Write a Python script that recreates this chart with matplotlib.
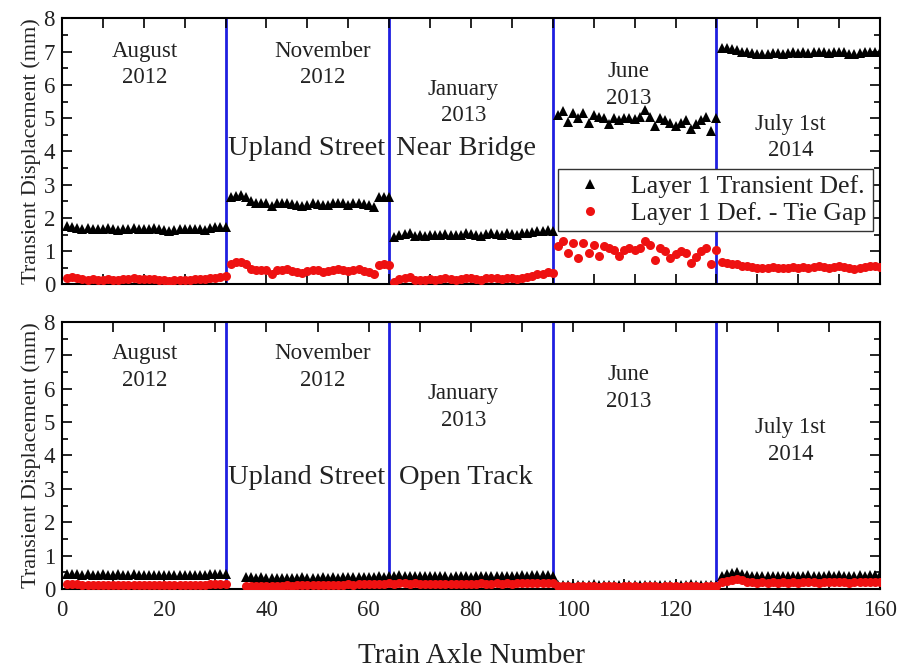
import numpy as np
import matplotlib
matplotlib.use("Agg")
import matplotlib.pyplot as plt
from matplotlib.ticker import MultipleLocator

plt.rcParams['font.family'] = ['Liberation Serif', 'DejaVu Serif']
plt.rcParams['mathtext.fontset'] = 'stix'

# Survey periods, 32 axles each
periods = ["August\n2012", "November\n2012", "January\n2013", "June\n2013", "July 1st\n2014"]
boundaries = [32, 64, 96, 128]

# ---------------- Near Bridge (upper panel) ----------------
near_axles = np.arange(1, 161)
near_transient = [
    # August 2012
    1.75, 1.72, 1.70, 1.68, 1.70, 1.66, 1.68, 1.66, 1.70, 1.67, 1.65, 1.68, 1.66, 1.70, 1.68, 1.66,
    1.68, 1.70, 1.66, 1.63, 1.62, 1.64, 1.66, 1.68, 1.66, 1.68, 1.66, 1.64, 1.70, 1.74, 1.74, 1.74,
    # November 2012
    2.62, 2.66, 2.68, 2.62, 2.50, 2.44, 2.46, 2.44, 2.36, 2.44, 2.46, 2.44, 2.42, 2.38, 2.36, 2.40,
    2.44, 2.42, 2.38, 2.40, 2.44, 2.46, 2.44, 2.40, 2.44, 2.46, 2.42, 2.40, 2.34, 2.62, 2.64, 2.62,
    # January 2013
    1.42, 1.50, 1.52, 1.56, 1.46, 1.48, 1.46, 1.50, 1.48, 1.50, 1.52, 1.50, 1.48, 1.50, 1.54, 1.52,
    1.50, 1.46, 1.52, 1.54, 1.52, 1.50, 1.56, 1.52, 1.50, 1.54, 1.56, 1.58, 1.60, 1.62, 1.64, 1.62,
    # June 2013
    5.10, 5.22, 4.88, 5.15, 5.00, 5.15, 4.86, 5.10, 5.05, 5.00, 4.82, 5.00, 4.96, 5.00, 5.00, 4.98,
    5.05, 5.25, 5.05, 4.76, 5.00, 4.95, 4.86, 4.76, 4.86, 4.95, 4.66, 4.82, 4.95, 5.05, 4.60, 5.00,
    # July 1st 2014
    7.12, 7.10, 7.08, 7.06, 7.00, 6.98, 6.96, 6.94, 6.92, 6.94, 6.96, 6.96, 6.94, 6.96, 6.98, 6.96,
    6.98, 6.96, 6.98, 7.00, 6.98, 6.96, 6.98, 7.00, 6.98, 6.94, 6.92, 6.96, 6.98, 7.00, 7.00, 6.98,
]
near_tie_gap = [
    # August 2012
    0.20, 0.22, 0.18, 0.16, 0.14, 0.15, 0.14, 0.13, 0.15, 0.14, 0.12, 0.16, 0.15, 0.18, 0.16, 0.17,
    0.15, 0.16, 0.14, 0.12, 0.11, 0.12, 0.13, 0.14, 0.13, 0.15, 0.16, 0.15, 0.18, 0.20, 0.22, 0.24,
    # November 2012
    0.62, 0.66, 0.68, 0.60, 0.46, 0.42, 0.44, 0.42, 0.32, 0.42, 0.44, 0.46, 0.40, 0.36, 0.34, 0.40,
    0.44, 0.42, 0.36, 0.40, 0.44, 0.46, 0.42, 0.40, 0.44, 0.46, 0.40, 0.36, 0.30, 0.58, 0.62, 0.58,
    # January 2013
    0.08, 0.16, 0.18, 0.22, 0.12, 0.14, 0.12, 0.16, 0.14, 0.16, 0.18, 0.16, 0.14, 0.16, 0.20, 0.18,
    0.16, 0.14, 0.18, 0.20, 0.18, 0.16, 0.20, 0.18, 0.16, 0.20, 0.22, 0.26, 0.30, 0.32, 0.36, 0.34,
    # June 2013
    1.15, 1.30, 0.95, 1.25, 0.80, 1.25, 0.95, 1.20, 0.85, 1.15, 1.10, 1.05, 0.85, 1.05, 1.10, 1.05,
    1.10, 1.30, 1.20, 0.72, 1.10, 1.00, 0.80, 0.90, 1.00, 0.95, 0.65, 0.82, 1.00, 1.10, 0.60, 1.05,
    # July 1st 2014
    0.68, 0.64, 0.62, 0.60, 0.56, 0.54, 0.52, 0.50, 0.48, 0.50, 0.52, 0.50, 0.48, 0.50, 0.52, 0.50,
    0.52, 0.50, 0.52, 0.54, 0.52, 0.50, 0.52, 0.54, 0.52, 0.48, 0.46, 0.50, 0.52, 0.54, 0.56, 0.52,
]

# ---------------- Open Track (lower panel) ----------------
open_axles = np.concatenate([np.arange(1, 33), np.arange(36, 161)])
open_transient = [
    # August 2012
    0.44, 0.46, 0.44, 0.42, 0.44, 0.43, 0.42, 0.44, 0.43, 0.42, 0.44, 0.42, 0.43, 0.44, 0.42, 0.41,
    0.42, 0.43, 0.42, 0.41, 0.42, 0.43, 0.42, 0.41, 0.42, 0.43, 0.42, 0.43, 0.44, 0.45, 0.46, 0.45,
    # November 2012 (axles 36-64)
    0.36, 0.35, 0.34, 0.35, 0.34, 0.33, 0.34, 0.33, 0.34, 0.33, 0.34, 0.35, 0.34, 0.33, 0.34, 0.35,
    0.34, 0.35, 0.34, 0.35, 0.36, 0.35, 0.36, 0.37, 0.36, 0.37, 0.38, 0.37, 0.38,
    # January 2013
    0.40, 0.42, 0.40, 0.39, 0.40, 0.39, 0.38, 0.39, 0.38, 0.39, 0.38, 0.37, 0.38, 0.39, 0.38, 0.37,
    0.38, 0.39, 0.38, 0.39, 0.38, 0.39, 0.40, 0.39, 0.40, 0.41, 0.40, 0.41, 0.42, 0.41, 0.42, 0.40,
    # June 2013
    0.12, 0.11, 0.12, 0.11, 0.12, 0.11, 0.12, 0.16, 0.12, 0.11, 0.12, 0.11, 0.12, 0.11, 0.12, 0.11,
    0.12, 0.11, 0.12, 0.11, 0.12, 0.11, 0.12, 0.11, 0.12, 0.11, 0.16, 0.12, 0.11, 0.12, 0.11, 0.12,
    # July 1st 2014
    0.40, 0.44, 0.48, 0.50, 0.46, 0.42, 0.40, 0.39, 0.40, 0.39, 0.40, 0.39, 0.40, 0.39, 0.40, 0.39,
    0.40, 0.41, 0.40, 0.39, 0.40, 0.41, 0.40, 0.41, 0.40, 0.39, 0.40, 0.41, 0.40, 0.41, 0.42, 0.41,
]
open_tie_gap = [
    # August 2012
    0.14, 0.16, 0.14, 0.12, 0.13, 0.12, 0.12, 0.13, 0.12, 0.11, 0.12, 0.12, 0.11, 0.12, 0.11, 0.11,
    0.12, 0.12, 0.11, 0.11, 0.12, 0.11, 0.12, 0.11, 0.12, 0.12, 0.11, 0.13, 0.14, 0.15, 0.16, 0.15,
    # November 2012 (axles 36-64)
    0.10, 0.10, 0.09, 0.10, 0.10, 0.09, 0.10, 0.10, 0.11, 0.10, 0.11, 0.11, 0.12, 0.11, 0.12, 0.12,
    0.13, 0.13, 0.12, 0.13, 0.14, 0.13, 0.14, 0.15, 0.14, 0.15, 0.16, 0.16, 0.17,
    # January 2013
    0.16, 0.18, 0.17, 0.16, 0.17, 0.16, 0.15, 0.16, 0.15, 0.16, 0.15, 0.15, 0.16, 0.16, 0.15, 0.15,
    0.16, 0.17, 0.16, 0.16, 0.17, 0.16, 0.17, 0.16, 0.17, 0.18, 0.17, 0.18, 0.19, 0.18, 0.19, 0.17,
    # June 2013
    0.08, 0.08, 0.08, 0.07, 0.08, 0.08, 0.08, 0.08, 0.07, 0.08, 0.08, 0.08, 0.07, 0.08, 0.08, 0.08,
    0.07, 0.08, 0.08, 0.08, 0.07, 0.08, 0.08, 0.08, 0.07, 0.08, 0.08, 0.08, 0.07, 0.08, 0.08, 0.08,
    # July 1st 2014
    0.20, 0.24, 0.28, 0.30, 0.26, 0.22, 0.20, 0.19, 0.20, 0.19, 0.20, 0.19, 0.20, 0.19, 0.20, 0.19,
    0.20, 0.21, 0.20, 0.19, 0.20, 0.21, 0.20, 0.21, 0.20, 0.19, 0.20, 0.21, 0.20, 0.21, 0.22, 0.21,
]

series_labels = ["Layer 1 Transient Def.", "Layer 1 Def. - Tie Gap"]
site_labels = [("Upland Street", "Near Bridge"), ("Upland Street", "Open Track")]

TEXT = '#222222'
fig = plt.figure(figsize=(9.01, 6.70), dpi=100)
ax_top = fig.add_axes([0.0688, 0.5755, 0.9079, 0.3970])
ax_bot = fig.add_axes([0.0688, 0.1209, 0.9079, 0.3985])

# label positions for each panel (x, y in data units)
period_pos = [
    [(16.2, 6.62), (51.0, 6.62), (78.5, 5.47), (110.8, 6.00), (142.5, 4.42)],
    [(16.2, 6.65), (51.0, 6.65), (78.5, 5.45), (110.8, 6.02), (142.5, 4.43)],
]
site_y = [4.09, 3.35]

for i, (ax, x, blk, red) in enumerate([
        (ax_top, near_axles, near_transient, near_tie_gap),
        (ax_bot, open_axles, open_transient, open_tie_gap)]):
    for b in boundaries:
        ax.axvline(b, color='#1f1fe0', lw=2.0, zorder=1)
    ax.plot(x, blk, linestyle='none', marker='^', ms=6.5, color='black',
            markeredgewidth=0, label=series_labels[0], zorder=3)
    ax.plot(x, red, linestyle='none', marker='o', ms=6.5, color='#ee1111',
            markeredgewidth=0, label=series_labels[1], zorder=4)

    for (px, py), txt in zip(period_pos[i], periods):
        ax.text(px, py, txt, ha='center', va='center', fontsize=16.5,
                color=TEXT, linespacing=1.35, zorder=5)
    ax.text(47.8, site_y[i], site_labels[i][0], ha='center', va='center',
            fontsize=20.5, color=TEXT, zorder=5)
    ax.text(79.0, site_y[i], site_labels[i][1], ha='center', va='center',
            fontsize=20.5, color=TEXT, zorder=5)

    ax.set_xlim(0, 160)
    ax.set_ylim(0, 8)
    ax.yaxis.set_major_locator(MultipleLocator(1))
    ax.yaxis.set_minor_locator(MultipleLocator(0.5))
    ax.tick_params(which='both', direction='in', top=True, right=True,
                   colors='black', labelcolor=TEXT, labelsize=16.5, width=1.2)
    ax.tick_params(which='major', length=7)
    ax.tick_params(which='minor', length=4)
    ax.tick_params(axis='y', pad=5)
    for s in ax.spines.values():
        s.set_linewidth(1.5)
    ax.set_ylabel("Transient Displacement (mm)", fontsize=16, color=TEXT, labelpad=2)

ax_top.xaxis.set_major_locator(MultipleLocator(8))
ax_top.tick_params(axis='x', labelbottom=False)
ax_bot.xaxis.set_major_locator(MultipleLocator(20))
ax_bot.xaxis.set_minor_locator(MultipleLocator(10))
ax_bot.tick_params(axis='x', which='minor', length=7)
ax_bot.tick_params(axis='x', which='major', pad=8)
ax_bot.set_xlabel("Train Axle Number", fontsize=21, color=TEXT, labelpad=16)

leg = ax_top.legend(loc='lower right', bbox_to_anchor=(0.9914, 0.199),
                    fontsize=18.5, frameon=True, fancybox=False, framealpha=1.0,
                    edgecolor='#333333', borderpad=0.25, handletextpad=0.6,
                    labelspacing=0.15, borderaxespad=0, handlelength=2.0)
leg.get_frame().set_linewidth(1.0)
for t in leg.get_texts():
    t.set_color(TEXT)
leg.set_zorder(10)

fig.savefig("out.png", dpi=100)
